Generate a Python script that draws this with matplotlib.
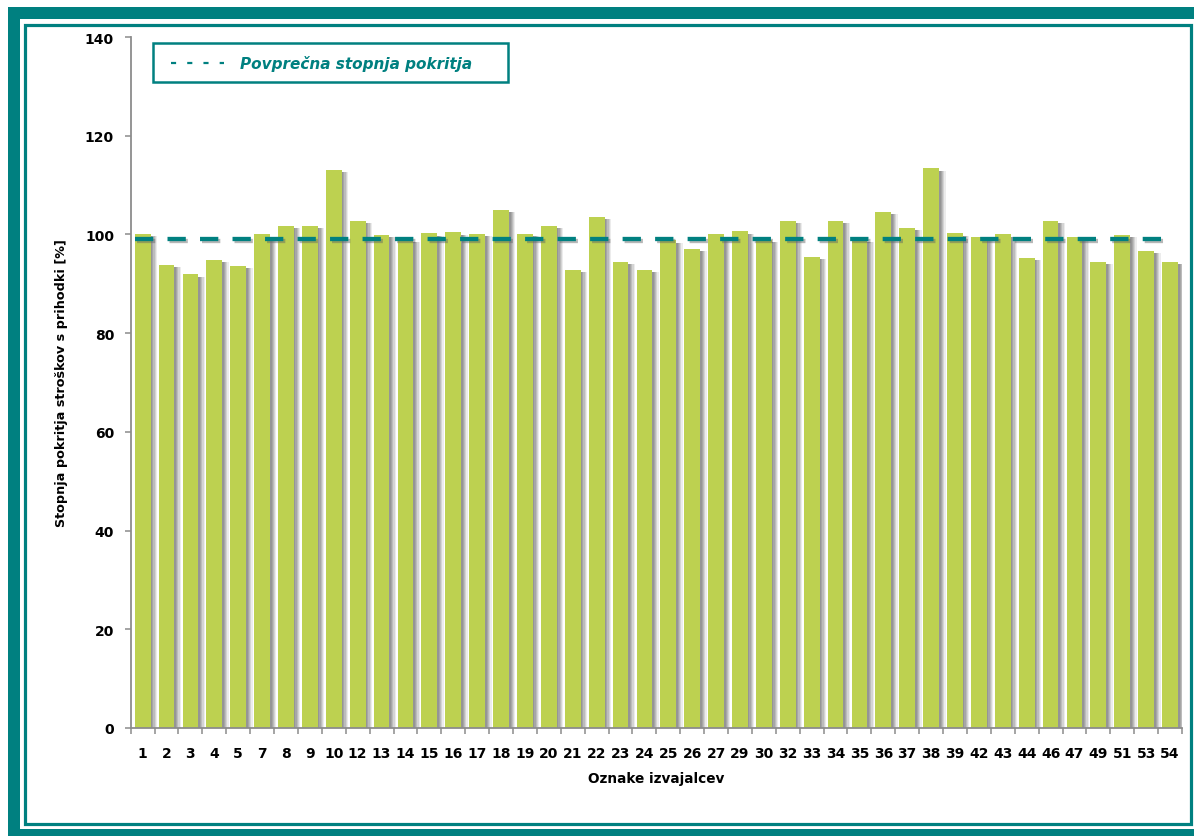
import matplotlib
matplotlib.use("Agg")
import matplotlib.pyplot as plt
import matplotlib.patheffects as pe
from matplotlib.patches import Rectangle
from matplotlib.lines import Line2D
import numpy as np

# ---------------- data ----------------
categories = ["1", "2", "3", "4", "5", "7", "8", "9", "10", "12", "13", "14", "15", "16",
              "17", "18", "19", "20", "21", "22", "23", "24", "25", "26", "27", "29", "30",
              "32", "33", "34", "35", "36", "37", "38", "39", "42", "43", "44", "46", "47",
              "49", "51", "53", "54"]
values = [100.1, 93.9, 91.9, 94.8, 93.7, 100.0, 101.8, 101.8, 113.0, 102.8, 99.9, 99.0,
          100.2, 100.4, 100.1, 104.9, 100.1, 101.8, 92.8, 103.5, 94.5, 92.8, 98.8, 97.0,
          100.0, 100.6, 98.9, 102.7, 95.4, 102.8, 98.9, 104.5, 101.3, 113.4, 100.2, 99.5,
          100.0, 95.3, 102.7, 99.5, 94.4, 99.9, 96.6, 94.4]
average_value = 99.1
yticks = [0, 20, 40, 60, 80, 100, 120, 140]
legend_label = "Povprečna stopnja pokritja"
ylabel = "Stopnja pokritja stroškov s prihodki [%]"
xlabel = "Oznake izvajalcev"

# ---------------- style ----------------
W, H = 1194, 837
TEAL = "#008080"
GREEN = "#BDD150"
AXIS_GREY = "#8C8C8C"

plt.rcParams["font.family"] = ["DejaVu Sans"]

fig = plt.figure(figsize=(W / 100, H / 100), dpi=100)
fig.patch.set_facecolor("white")


def px_rect(x0, y0, x1, y1, **kw):
    """rectangle given in pixel coords (origin top-left) -> figure fraction"""
    return Rectangle((x0 / W, 1 - y1 / H), (x1 - x0) / W, (y1 - y0) / H,
                     transform=fig.transFigure, **kw)


# outer thick teal frame (cropped on the right)
for r in [px_rect(8, 8, W + 5, 19.5), px_rect(8, 8, 19.5, H + 5), px_rect(8, 829.5, W + 5, H + 5)]:
    r.set_facecolor(TEAL)
    r.set_edgecolor("none")
    fig.add_artist(r)
# thin inner teal frame
inner = px_rect(24.5, 25.7, 1190.7, 824.8, facecolor="none", edgecolor=TEAL, linewidth=2.3)
fig.add_artist(inner)

# axes
left_px, right_px, top_px, bottom_px = 130.7, 1182, 38, 729
ax = fig.add_axes([left_px / W, 1 - bottom_px / H, (right_px - left_px) / W, (bottom_px - top_px) / H])
ax.set_facecolor("none")

x = np.arange(len(categories))
bar_w = 0.66
px_per_unit = (right_px - left_px) / len(categories)

# bar shadows (gradient to the right)
shadow_layers = [(6.5, "#ececec"), (5.2, "#d4d4d4"), (4.0, "#bcbcbc"), (2.8, "#a6a6a6"), (1.6, "#959595")]
vals = np.array(values)
for off_px, col in shadow_layers:
    ax.bar(x + off_px / px_per_unit, vals - 0.45, width=bar_w, color=col,
           edgecolor="none", zorder=1)
ax.bar(x, vals, width=bar_w, color=GREEN, edgecolor="none", zorder=2)

# average line
line_x = [x[0] - 0.33, x[-1] - 0.35]
ax.plot(line_x, [average_value, average_value], color=TEAL, lw=3.1,
        ls=(0, (4.25, 3.3)), solid_capstyle="butt", dash_capstyle="butt", zorder=3,
        path_effects=[pe.SimpleLineShadow(offset=(1.5, -1.5), shadow_color="#606060", alpha=0.45),
                      pe.Normal()])

ax.set_xlim(-0.5, len(categories) - 0.5)
ax.set_ylim(0, 140)
ax.set_yticks(yticks)
ax.set_yticklabels([str(v) for v in yticks], fontsize=10, fontweight="bold")
ax.set_xticks(x)
ax.set_xticklabels(categories, fontsize=10, fontweight="bold")
ax.set_xticks(np.arange(len(categories) + 1) - 0.5, minor=True)

ax.tick_params(axis="x", which="major", length=0, pad=13)
ax.tick_params(axis="x", which="minor", length=4, width=1.1, color=AXIS_GREY, direction="out")
ax.tick_params(axis="y", which="major", length=4, width=1.1, color=AXIS_GREY, direction="out", pad=8)

for s in ["top", "right"]:
    ax.spines[s].set_visible(False)
for s in ["left", "bottom"]:
    ax.spines[s].set_color(AXIS_GREY)
    ax.spines[s].set_linewidth(1.3)

ax.set_ylabel(ylabel, fontsize=9.2, fontweight="bold", labelpad=12)
ax.set_xlabel(xlabel, fontsize=9.8, fontweight="bold", labelpad=8)

# custom legend box
aw = right_px - left_px
ah = bottom_px - top_px
def ax_x(px):
    return (px - left_px) / aw
def ax_y(py):
    return (bottom_px - py) / ah

box = Rectangle((ax_x(153), ax_y(83)), ax_x(508) - ax_x(153), ax_y(44) - ax_y(83),
                transform=ax.transAxes, facecolor="white", edgecolor=TEAL, linewidth=1.8, zorder=5)
ax.add_patch(box)
ax.add_line(Line2D([ax_x(171), ax_x(224)], [ax_y(64), ax_y(64)], transform=ax.transAxes,
                   color=TEAL, lw=1.6, ls=(0, (2.3, 5.0)), dash_capstyle="butt", zorder=6))
ax.text(ax_x(240), ax_y(64), legend_label, transform=ax.transAxes, color=TEAL,
        fontsize=11, fontweight="bold", fontstyle="italic", va="center", ha="left", zorder=6)

fig.savefig("out.png", dpi=100, facecolor="white")
